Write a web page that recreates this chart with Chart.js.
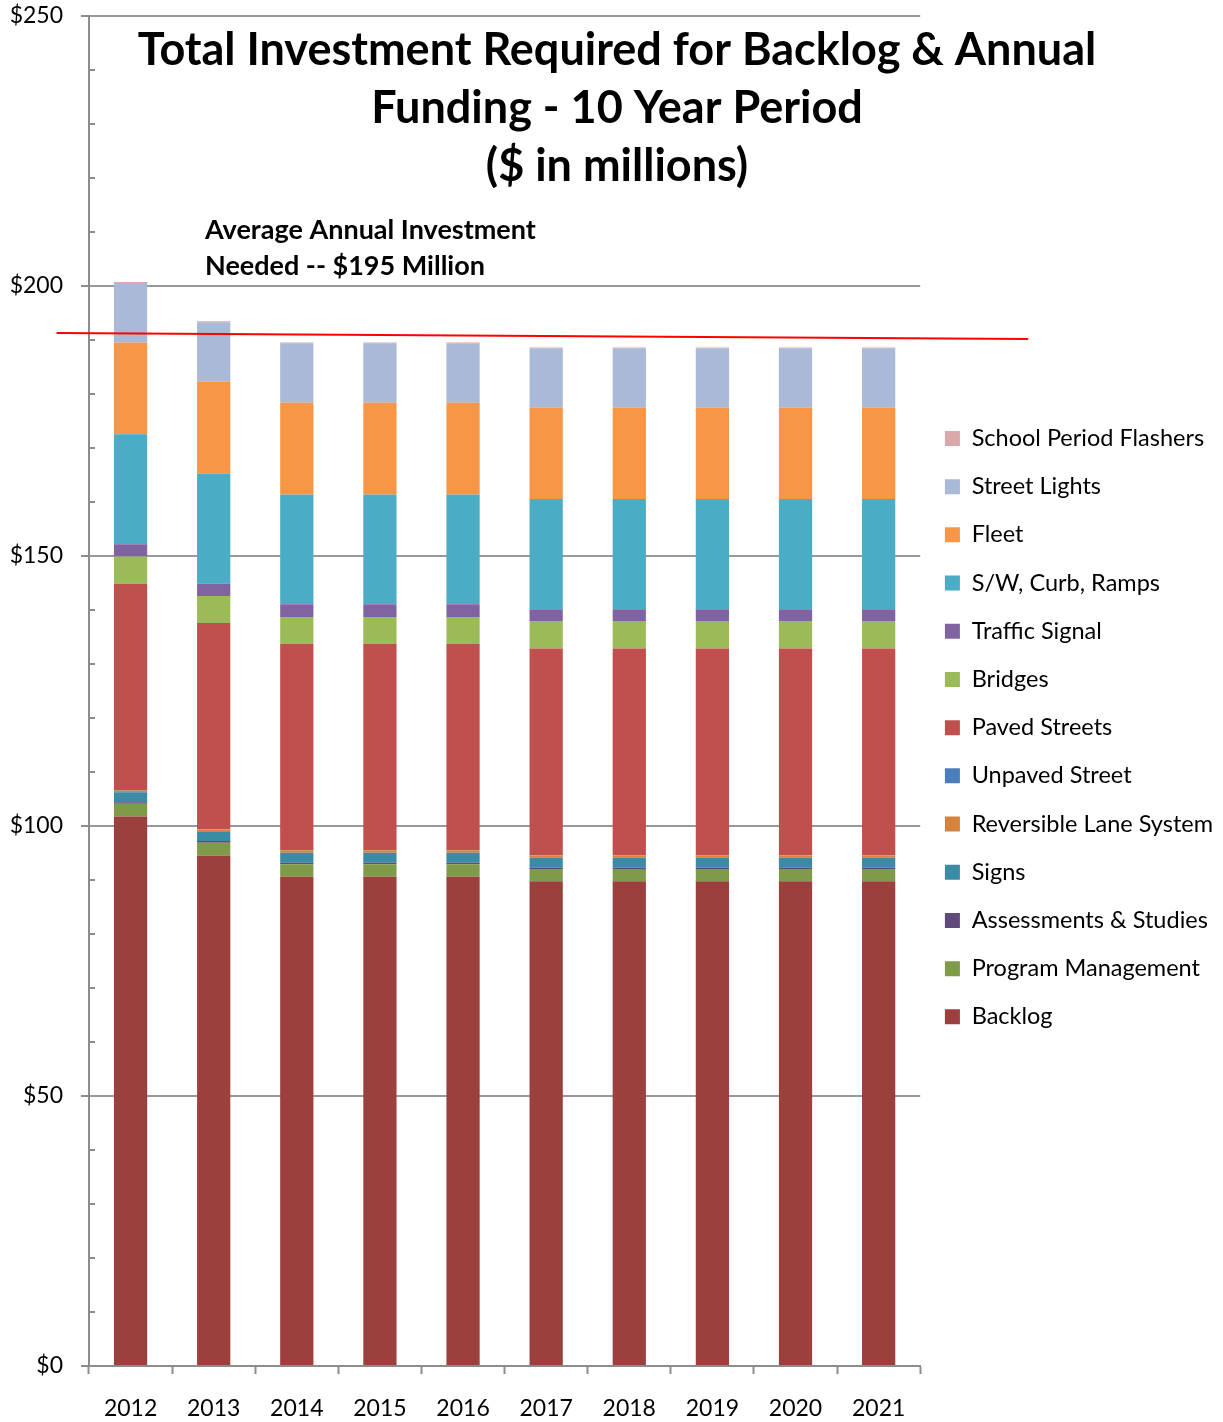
<!DOCTYPE html>
<html><head><meta charset="utf-8">
<script src="https://cdn.jsdelivr.net/npm/chart.js@4/dist/chart.umd.min.js"></script>
<style>html,body{margin:0;padding:0;background:#fff;}#wrap{width:1223px;height:1422px;position:relative;}</style>
</head><body><div id="wrap"><canvas id="c" width="1223" height="1422"></canvas></div>
<script>
// ---- data ----
const categories = ['2012','2013','2014','2015','2016','2017','2018','2019','2020','2021'];
const backlog      = [101.75, 94.5, 90.6, 90.6, 90.6, 89.75, 89.75, 89.75, 89.75, 89.75];
const programMgmt  = [2.38, 2.4, 2.3, 2.3, 2.3, 2.3, 2.3, 2.3, 2.3, 2.3];
const assessments  = [0.26, 0.3, 0.3, 0.3, 0.3, 0.2, 0.2, 0.2, 0.2, 0.2];
const signs        = [1.85, 1.7, 1.85, 1.85, 1.85, 1.85, 1.85, 1.85, 1.85, 1.85];
const reversible   = [0.3, 0.45, 0.45, 0.45, 0.45, 0.45, 0.45, 0.45, 0.45, 0.45];
const unpaved      = [0.05, 0.05, 0.05, 0.05, 0.05, 0.05, 0.05, 0.05, 0.05, 0.05];
const paved        = [38.25, 38.2, 38.2, 38.2, 38.2, 38.25, 38.25, 38.25, 38.25, 38.25];
const bridges      = [5.05, 5.0, 4.95, 4.95, 4.95, 5.1, 5.1, 5.1, 5.1, 5.1];
const trafficSignal= [2.3, 2.3, 2.35, 2.35, 2.35, 2.2, 2.2, 2.2, 2.2, 2.2];
const sidewalks    = [20.35, 20.4, 20.35, 20.35, 20.35, 20.4, 20.4, 20.4, 20.4, 20.4];
const fleet        = [17.0, 17.0, 17.0, 17.0, 17.0, 16.9, 16.9, 16.9, 16.9, 16.9];
const streetLights = [11.0, 11.0, 11.0, 11.0, 11.0, 11.0, 11.0, 11.0, 11.0, 11.0];
const schoolFlash  = [0.2, 0.15, 0.15, 0.15, 0.15, 0.15, 0.15, 0.15, 0.15, 0.15];
const avgLine      = [191.3, 190.2];   // red average line (left end, right end)
const titleLines = ['Total Investment Required for Backlog & Annual', 'Funding - 10 Year Period', '($ in millions)'];
const noteLines  = ['Average Annual Investment', 'Needed -- $195 Million'];

// ---- styles ----
const FONT = 'Lato, "Open Sans", sans-serif';
const AXIS = '#8c8c8c';
const series = [
  ['Backlog', backlog, '#9b403d'],
  ['Program Management', programMgmt, '#7f9a48'],
  ['Assessments & Studies', assessments, '#604a7b'],
  ['Signs', signs, '#3b8ba4'],
  ['Reversible Lane System', reversible, '#d6833c'],
  ['Unpaved Street', unpaved, '#4a7ebb'],
  ['Paved Streets', paved, '#c0504d'],
  ['Bridges', bridges, '#9bbb59'],
  ['Traffic Signal', trafficSignal, '#8064a2'],
  ['S/W, Curb, Ramps', sidewalks, '#4bacc6'],
  ['Fleet', fleet, '#f79646'],
  ['Street Lights', streetLights, '#aab9d7'],
  ['School Period Flashers', schoolFlash, '#daa8a8']
];

const datasets = series.map(([label, data, color]) => ({
  type: 'bar', label, data, backgroundColor: color, borderWidth: 0,
  grouped: false, stack: 'main',
  barPercentage: 0.4, categoryPercentage: 1.0, order: 1
}));
datasets.push({
  type: 'line', label: '__avg', xAxisID: 'x2', yAxisID: 'y', stack: 'avg',
  data: [{x: -0.039, y: avgLine[0]}, {x: 1.13, y: avgLine[1]}],
  borderColor: '#ff0000', borderWidth: 2, pointRadius: 0, clip: false, order: 0, fill: false
});

const textPlugin = {
  id: 'texts',
  afterDraw(chart) {
    const ctx = chart.ctx;
    const y = chart.scales.y;
    const area = chart.chartArea;
    ctx.save();
    // minor inside ticks
    ctx.strokeStyle = AXIS; ctx.lineWidth = 2;
    y.ticks.forEach(t => {
      if (t.value % 50 !== 0) {
        const py = Math.round(y.getPixelForValue(t.value));
        ctx.beginPath(); ctx.moveTo(area.left, py); ctx.lineTo(area.left + 6, py); ctx.stroke();
      }
    });
    // title
    ctx.fillStyle = '#000';
    ctx.textAlign = 'center'; ctx.textBaseline = 'middle';
    ctx.font = 'bold 45px ' + FONT;
    titleLines.forEach((s, i) => ctx.fillText(s, 617, 50 + i * 58));
    // note
    ctx.textAlign = 'left';
    ctx.font = 'bold 27px ' + FONT;
    noteLines.forEach((s, i) => ctx.fillText(s, 205, 230 + i * 36));
    ctx.restore();
  }
};

new Chart(document.getElementById('c'), {
  type: 'bar',
  data: { labels: categories, datasets },
  options: {
    responsive: false, animation: false, devicePixelRatio: 1,
    layout: { padding: { top: 16, left: 0, right: 0, bottom: 0 } },
    plugins: {
      tooltip: { enabled: false },
      title: { display: false },
      legend: {
        position: 'right', align: 'start', reverse: true,
        title: { display: true, text: ' ', font: { size: 10 }, padding: { top: 374, bottom: 0 } },
        labels: {
          filter: item => item.text !== '__avg',
          boxWidth: 15, boxHeight: 15, padding: 24.7,
          color: '#000', font: { family: FONT, size: 23.5 }
        }
      }
    },
    scales: {
      x: {
        stacked: true, offset: true,
        grid: { offset: true, drawOnChartArea: false, drawTicks: true, tickLength: 8, tickColor: AXIS, tickWidth: 2 },
        border: { color: AXIS, width: 2 },
        ticks: { color: '#000', font: { family: FONT, size: 23 }, padding: 21, maxRotation: 0 },
        afterFit(scale) { scale.height = 56; scale.paddingLeft = 0; scale.paddingRight = 0; }
      },
      x2: { type: 'linear', display: false, min: 0, max: 1, offset: false, grid: { offset: false } },
      y: {
        stacked: true, min: 0, max: 250,
        ticks: {
          stepSize: 10, autoSkip: false, color: '#000', padding: 18,
          font: { family: FONT, size: 23 },
          callback: v => (v % 50 === 0 ? '$' + v : '')
        },
        grid: {
          color: c => (c.tick && c.tick.value % 50 === 0 ? '#999999' : 'rgba(0,0,0,0)'),
          lineWidth: 2, tickLength: 8, tickWidth: 2,
          tickColor: c => (c.tick && c.tick.value % 50 === 0 ? AXIS : 'rgba(0,0,0,0)')
        },
        border: { color: AXIS, width: 2 },
        afterFit(scale) { scale.width = 89; scale.paddingTop = 0; scale.paddingBottom = 0; }
      }
    }
  },
  plugins: [textPlugin]
});
</script></body></html>
